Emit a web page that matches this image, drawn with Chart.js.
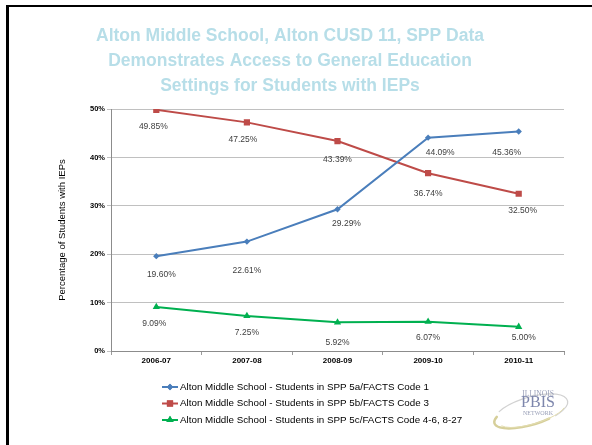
<!DOCTYPE html>
<html>
<head>
<meta charset="utf-8">
<script src="https://cdn.jsdelivr.net/npm/chart.js@4"></script>
<style>
  html, body { margin: 0; padding: 0; background: #fff; }
  #wrap { position: relative; width: 592px; height: 445px; overflow: hidden; }
  #frame { position: absolute; left: 6px; top: 5px; right: -10px; bottom: -10px;
           border-left: 3px solid #000; border-top: 2px solid #000; pointer-events: none; }
</style>
</head>
<body>
<div id="wrap">
  <canvas id="chart" width="592" height="445"></canvas>
  <div id="frame"></div>
</div>
<script>
// ---- data ----
const years = ["2006-07", "2007-08", "2008-09", "2009-10", "2010-11"];
const code1 = [19.60, 22.61, 29.29, 44.09, 45.36];
const code3 = [49.85, 47.25, 43.39, 36.74, 32.50];
const code4to27 = [9.09, 7.25, 5.92, 6.07, 5.00];
const seriesNames = [
  "Alton Middle School - Students in SPP 5a/FACTS Code 1",
  "Alton Middle School - Students in SPP 5b/FACTS Code 3",
  "Alton Middle School - Students in SPP 5c/FACTS Code 4-6, 8-27",
];
const yTicks = [0, 10, 20, 30, 40, 50];

// label nudges (dx, dy from point), as placed in the original
const labelNudge = [
  [[5, 18], [0, 29], [9, 14], [12, 15], [-12, 21]],
  [[-3, 17], [-4, 17], [0, 19], [0, 20], [4, 17]],
  [[-2, 17], [0, 17], [0, 20], [0, 16], [5, 11]],
];

const BLUE = "#4a7ebb", RED = "#be4b48", GREEN = "#00b050";

// data labels under each point
const valueLabels = {
  id: "valueLabels",
  afterDatasetsDraw(chart) {
    const ctx = chart.ctx;
    ctx.save();
    ctx.font = "8.5px Arial, 'Liberation Sans'";
    ctx.fillStyle = "#404040";
    ctx.textAlign = "center";
    ctx.textBaseline = "middle";
    chart.data.datasets.forEach((ds, i) => {
      chart.getDatasetMeta(i).data.forEach((pt, j) => {
        const [dx, dy] = labelNudge[i][j];
        ctx.fillText(ds.data[j].toFixed(2) + "%", pt.x + dx, pt.y + dy);
      });
    });
    ctx.restore();
  },
};

// legend with line + marker, and the PBIS logo
const legendAndLogo = {
  id: "legendAndLogo",
  afterDraw(chart) {
    const ctx = chart.ctx;
    ctx.save();
    chart.data.datasets.forEach((ds, i) => {
      const y = 387 + i * 16.5;
      ctx.strokeStyle = ds.borderColor;
      ctx.lineWidth = 2;
      ctx.beginPath();
      ctx.moveTo(162, y);
      ctx.lineTo(178, y);
      ctx.stroke();
      ctx.fillStyle = ds.backgroundColor;
      Chart.helpers.drawPoint(ctx, { pointStyle: ds.pointStyle, radius: ds.pointRadius, borderWidth: 0 }, 170, y);
      ctx.fill();
      ctx.fillStyle = "#000";
      ctx.font = "9.8px Arial, 'Liberation Sans'";
      ctx.textAlign = "left";
      ctx.textBaseline = "middle";
      ctx.fillText(seriesNames[i], 180, y);
    });

    // logo swoosh
    ctx.lineCap = "round";
    ctx.strokeStyle = "#d6cf9a";
    ctx.lineWidth = 2.5;
    ctx.beginPath();
    ctx.ellipse(530, 413, 37, 12, -0.28, 0.35 * Math.PI, 1.15 * Math.PI);
    ctx.stroke();
    ctx.strokeStyle = "#d2d2d2";
    ctx.lineWidth = 1.2;
    ctx.beginPath();
    ctx.ellipse(531, 411, 38, 14, -0.28, 1.2 * Math.PI, 2.3 * Math.PI);
    ctx.stroke();
    ctx.strokeStyle = "#e3ddb0";
    ctx.lineWidth = 1;
    ctx.beginPath();
    ctx.ellipse(532, 414, 34, 10, -0.28, 0.1 * Math.PI, 0.9 * Math.PI);
    ctx.stroke();

    ctx.textAlign = "center";
    ctx.textBaseline = "middle";
    ctx.fillStyle = "#9aa0b8";
    ctx.font = "7.5px 'Liberation Serif', serif";
    ctx.fillText("ILLINOIS", 538, 394);
    ctx.fillStyle = "#7d86ac";
    ctx.font = "16px 'Liberation Serif', serif";
    ctx.fillText("PBIS", 538, 403);
    ctx.fillStyle = "#9aa0b8";
    ctx.font = "6px 'Liberation Serif', serif";
    ctx.fillText("NETWORK", 538, 413);
    ctx.restore();
  },
};

const mkSet = (label, data, color, style, radius) => ({
  label, data,
  borderColor: color,
  backgroundColor: color,
  borderWidth: 2,
  pointStyle: style,
  pointRadius: radius,
  pointHoverRadius: radius,
  pointBorderWidth: 0,
  pointBackgroundColor: color,
  tension: 0,
  fill: false,
});

new Chart(document.getElementById("chart"), {
  type: "line",
  data: {
    labels: years,
    datasets: [
      mkSet(seriesNames[0], code1, BLUE, "rectRot", 3.2),
      mkSet(seriesNames[1], code3, RED, "rect", 4.4),
      mkSet(seriesNames[2], code4to27, GREEN, "triangle", 4.2),
    ],
  },
  options: {
    responsive: false,
    animation: false,
    layout: { padding: { left: 16, right: 28, top: 0, bottom: 74 } },
    plugins: {
      legend: { display: false },
      tooltip: { enabled: false },
      title: {
        display: true,
        text: [
          "Alton Middle School, Alton CUSD 11, SPP Data",
          "Demonstrates Access to General Education",
          "Settings for Students with IEPs",
        ],
        color: "#b7dee8",
        font: { family: "Arial, 'Liberation Sans'", size: 17.5, weight: "bold", lineHeight: 1.43 },
        padding: { top: 24, bottom: 10 },
      },
    },
    scales: {
      x: {
        offset: true,
        afterFit(s) { s.height = 20; },
        grid: { offset: true, drawOnChartArea: false, drawTicks: true, tickLength: 4, color: "#9a9a9a" },
        border: { color: "#8c8c8c", width: 1 },
        ticks: { color: "#000", padding: 1, maxRotation: 0,
                 font: { family: "Arial, 'Liberation Sans'", size: 8, weight: "bold" } },
      },
      y: {
        min: 0, max: 50,
        afterFit(s) { s.width = 95; },
        afterBuildTicks(s) { s.ticks = yTicks.map(v => ({ value: v })); },
        grid: { color: "#c0c0c0", tickLength: 4, lineWidth: 1 },
        border: { color: "#8c8c8c", width: 1 },
        ticks: { color: "#000", padding: 2, callback: v => v + "%",
                 font: { family: "Arial, 'Liberation Sans'", size: 7.5, weight: "bold" } },
        title: {
          display: true,
          text: "Percentage of Students with IEPs",
          color: "#000",
          font: { family: "Arial, 'Liberation Sans'", size: 9.5 },
          padding: { top: 40.3, bottom: 0 },
        },
      },
    },
  },
  plugins: [valueLabels, legendAndLogo],
});
</script>
</body>
</html>
